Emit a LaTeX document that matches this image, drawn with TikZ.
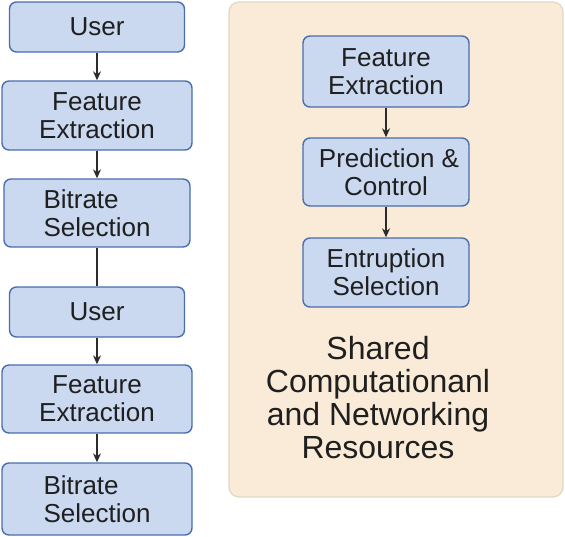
\documentclass[tikz,border=0pt]{standalone}
\usepackage{fontspec}
\setmainfont{Liberation Sans}
\usetikzlibrary{arrows.meta}
\definecolor{boxfill}{HTML}{CAD8F0}
\definecolor{boxline}{HTML}{4A6EAE}
\definecolor{panelfill}{HTML}{F9EBD8}
\definecolor{panelline}{HTML}{E2D6C4}
\definecolor{arrowcol}{HTML}{2B2B2B}
\tikzset{
  box/.style={draw=boxline, fill=boxfill, line width=1.4pt, rounded corners=7pt,
    font=\fontsize{26}{28}\selectfont, text=black!88, inner sep=2pt},
  flow/.style={draw=arrowcol, line width=1.3pt, -{Stealth[length=9pt,width=8pt]}},
  plain/.style={draw=arrowcol, line width=1.3pt},
  panel/.style={draw=panelline, fill=panelfill, line width=1.2pt, rounded corners=10pt}
}
\begin{document}
\begin{tikzpicture}[x=1pt,y=-1pt]
\useasboundingbox (0,0) rectangle (565,536);
% panel
\draw[panel] (229,2) rectangle (563,497);
% left column
\node[box, minimum width=175pt, minimum height=50pt, align=center] (u1) at (97,27) {User};
\node[box, minimum width=190pt, minimum height=69pt, align=center] (f1) at (97,115.5) {Feature\\Extraction};
\node[box, minimum width=186pt, minimum height=68pt, align=left] (b1) at (97,213) {Bitrate\\Selection};
\node[box, minimum width=175pt, minimum height=50pt, align=center] (u2) at (97,312) {User};
\node[box, minimum width=190pt, minimum height=68pt, align=center] (f2) at (97,399) {Feature\\Extraction};
\node[box, minimum width=190pt, minimum height=72pt, align=left] (b2) at (97,499) {Bitrate\\Selection};
\draw[flow] (u1.south) -- (f1.north);
\draw[flow] (f1.south) -- (b1.north);
\draw[plain] (b1.south) -- (u2.north);
\draw[flow] (u2.south) -- (f2.north);
\draw[flow] (f2.south) -- (b2.north);
% right column
\node[box, minimum width=166pt, minimum height=71pt, align=center] (fa) at (386,71.5) {Feature\\Extraction};
\node[box, minimum width=166pt, minimum height=68pt, align=center] (pc) at (386,172) {\hspace*{6pt}Prediction \&\\Control};
\node[box, minimum width=166pt, minimum height=69pt, align=center] (es) at (386,272.5) {Entruption\\Selection};
\draw[flow] (fa.south) -- (pc.north);
\draw[flow] (pc.south) -- (es.north);
\node[font=\fontsize{32}{33}\selectfont, text=black!88, align=center] (res) at (378,398) {Shared\\Computationanl\\and Networking\\Resources};
\end{tikzpicture}
\end{document}
